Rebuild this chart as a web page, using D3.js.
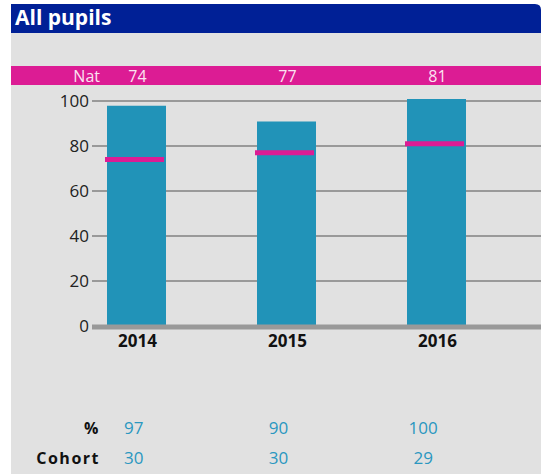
<!DOCTYPE html>
<meta charset="utf-8">
<style>
body { margin: 0; background: #fff; }
text { font-family: "Open Sans", sans-serif; }
.grid line { stroke: #999; stroke-width: 2px; }
.yaxis text { font-size: 17px; fill: #222; }
</style>
<body>
<script src="https://d3js.org/d3.v7.min.js"></script>
<script>

// data
var years = ["2014", "2015", "2016"];
var pupilPct = [97, 90, 100];
var natPct = [74, 77, 81];
var cohort = [30, 30, 29];
var yTicks = [0, 20, 40, 60, 80, 100];

var W = 541, H = 474;

var svg = d3.select("body").append("svg")
    .attr("width", W)
    .attr("height", H);

// grey panel + title bar
svg.append("rect")
    .attr("x", 11).attr("y", 33)
    .attr("width", W - 11).attr("height", H - 33)
    .style("fill", "#e1e1e1");

svg.append("path")
    .attr("d", "M11,4 H535 Q541,4 541,10 V33 H11 Z")
    .style("fill", "#002096");

svg.append("text")
    .attr("x", 15).attr("y", 25)
    .style("font-size", "21px")
    .style("font-weight", "bold")
    .style("fill", "#fff")
    .text("All pupils");

// scales
var x = d3.scalePoint().domain(years).range([61.5, 511.5]).padding(0.5);
var xTable = d3.scalePoint().domain(years).range([61.5, 495.5]).padding(0.5);
var y = d3.scaleLinear().domain([0, 100]).range([326, 101]);
var barW = 59;

// national band
svg.append("rect")
    .attr("x", 11).attr("y", 66)
    .attr("width", W - 11).attr("height", 19)
    .style("fill", "#dc1c94");

svg.append("text")
    .attr("x", 100).attr("y", 82)
    .attr("text-anchor", "end")
    .style("font-size", "16px")
    .style("fill", "#fbe3f1")
    .text("Nat");

svg.selectAll(".natlabel")
    .data(years)
  .enter().append("text")
    .attr("class", "natlabel")
    .attr("x", function(d) { return x(d) + 1; })
    .attr("y", 82)
    .attr("text-anchor", "middle")
    .style("font-size", "16px")
    .style("fill", "#fbe3f1")
    .text(function(d, i) { return natPct[i]; });

// gridlines
svg.append("g")
    .attr("class", "grid")
    .selectAll("line")
    .data(yTicks.filter(function(t) { return t > 0; }))
  .enter().append("line")
    .attr("x1", 92).attr("x2", W)
    .attr("y1", function(d) { return y(d); })
    .attr("y2", function(d) { return y(d); });

// y axis labels
svg.append("g")
    .attr("class", "yaxis")
    .selectAll("text")
    .data(yTicks)
  .enter().append("text")
    .attr("x", 89)
    .attr("y", function(d) { return y(d) + 6; })
    .attr("text-anchor", "end")
    .text(function(d) { return d; });

// bars
svg.selectAll(".bar")
    .data(years)
  .enter().append("rect")
    .attr("class", "bar")
    .attr("x", function(d) { return x(d) - barW / 2; })
    .attr("width", barW)
    .attr("y", function(d, i) { return y(pupilPct[i]) - 2; })
    .attr("height", function(d, i) { return y(0) - y(pupilPct[i]) + 2; })
    .style("fill", "#2193b8");

// baseline
svg.append("line")
    .attr("x1", 92).attr("x2", W)
    .attr("y1", y(0) + 1).attr("y2", y(0) + 1)
    .style("stroke", "#999")
    .style("stroke-width", 5);

// national markers
svg.selectAll(".nat")
    .data(years)
  .enter().append("rect")
    .attr("class", "nat")
    .attr("x", function(d) { return x(d) - barW / 2 - 2; })
    .attr("width", barW)
    .attr("y", function(d, i) { return y(natPct[i]) - 2.5; })
    .attr("height", 5)
    .style("fill", "#dc1c94");

// year labels
svg.selectAll(".year")
    .data(years)
  .enter().append("text")
    .attr("class", "year")
    .attr("x", function(d) { return x(d) + 1; })
    .attr("y", 347)
    .attr("text-anchor", "middle")
    .style("font-size", "17px")
    .style("font-weight", "bold")
    .style("fill", "#111")
    .text(function(d) { return d; });

// table below
var rows = [
  { label: "%", values: pupilPct, y: 434 },
  { label: "Cohort", values: cohort, y: 464 }
];

rows.forEach(function(r) {
  svg.append("text")
      .attr("x", 100).attr("y", r.y)
      .attr("text-anchor", "end")
      .style("font-size", "16px")
      .style("font-weight", "bold")
      .style("letter-spacing", "1.5px")
      .style("fill", "#111")
      .text(r.label);

  svg.selectAll(null)
      .data(years)
    .enter().append("text")
      .attr("x", function(d) { return xTable(d); })
      .attr("y", r.y)
      .attr("text-anchor", "middle")
      .style("font-size", "17px")
      .style("fill", "#2a97c0")
      .text(function(d, i) { return r.values[i]; });
});

</script>
</body>
